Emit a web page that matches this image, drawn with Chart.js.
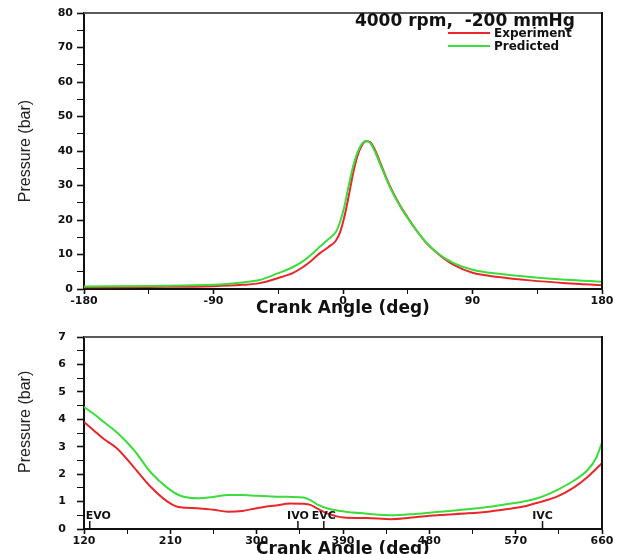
<!DOCTYPE html>
<html>
<head>
<meta charset="utf-8">
<title>Cylinder pressure</title>
<script src="https://cdn.jsdelivr.net/npm/chart.js@4.4.1/dist/chart.umd.min.js"></script>
<style>
html,body{margin:0;padding:0;background:#fff;overflow:hidden;}
#wrap{position:relative;width:624px;height:554px;}
canvas{position:absolute;left:0;}
#topChart{top:0;}
#lowChart{top:312px;}
</style>
</head>
<body>
<div id="wrap">
<canvas id="topChart" width="624" height="330"></canvas>
<canvas id="lowChart" width="624" height="254"></canvas>
</div>
<script>
const runTitle = '4000 rpm,  -200 mmHg';
const seriesNames = ['Experiment', 'Predicted'];

// compression / expansion, -180..180 deg
const topAngles = [-180,-135,-90,-70,-58,-45,-35,-28,-22,-16,-10,-5,-2,1,4,7,10,13,16,19,22,26,30,35,40,45,50,58,67,77,90,108,130,155,180];
const topExperiment = [0.5,0.6,0.8,1.2,1.7,3.2,4.6,6.3,8.2,10.4,12.2,14,16.5,21,27,33.5,38.5,41.5,42.8,42.5,40.5,36.5,32.3,27.8,24,20.7,17.6,13.3,9.9,7.0,4.7,3.5,2.5,1.7,1.1];
const topPredicted = [0.7,0.9,1.2,1.9,2.6,4.6,6.3,8.0,10.0,12.3,14.5,16.5,19.5,24,30,35.5,39.5,42,43,42.3,40,36,32,27.5,23.8,20.5,17.5,13.4,10,7.5,5.6,4.4,3.5,2.7,2.1];

// gas exchange, 120..660 deg
const lowAngles = [120,130,140,155,172,190,207,220,238,255,270,285,300,320,335,349,356,364,375,391,415,440,465,491,520,543,560,578,595,613,630,645,654,660];
const lowExperiment = [3.9,3.6,3.3,2.92,2.25,1.52,1.0,0.79,0.76,0.7,0.63,0.66,0.76,0.86,0.93,0.92,0.88,0.73,0.55,0.42,0.4,0.36,0.43,0.51,0.57,0.64,0.72,0.82,0.98,1.18,1.5,1.9,2.2,2.4];
const lowPredicted = [4.45,4.2,3.92,3.5,2.88,2.05,1.5,1.22,1.12,1.17,1.24,1.24,1.21,1.18,1.17,1.15,1.05,0.88,0.74,0.64,0.56,0.5,0.55,0.63,0.72,0.81,0.9,1.0,1.15,1.42,1.75,2.15,2.6,3.15];

const valveEvents = ['EVO','IVO','EVC','IVC'];
const valveAngles = [126,343,370,598];

const redColor = '#e8262b';
const greenColor = '#3ddc3d';

Chart.defaults.font.family = '"DejaVu Sans", sans-serif';
Chart.defaults.color = '#111';

function makePoints(xs, ys){
    var pts = [];
    for (let i = 0; i < xs.length; i++) {
        pts.push({x: xs[i], y: ys[i]});
    }
    return pts;
}

function makeDatasets(xs, red, green){
    return [{
        label: seriesNames[0],
        data: makePoints(xs, red),
        borderColor: redColor,
        borderWidth: 2,
        pointRadius: 0,
        cubicInterpolationMode: 'monotone',
        order: 2
    }, {
        label: seriesNames[1],
        data: makePoints(xs, green),
        borderColor: greenColor,
        borderWidth: 2,
        pointRadius: 0,
        cubicInterpolationMode: 'monotone',
        order: 1
    }];
}

const framePlugin = {
    id: 'frame',
    afterDraw(chart){
        const {ctx, chartArea} = chart;
        ctx.save();
        ctx.lineWidth = 2;
        ctx.strokeStyle = '#5a5a5a';
        ctx.beginPath();
        ctx.moveTo(chartArea.left, chartArea.top);
        ctx.lineTo(chartArea.right, chartArea.top);
        ctx.stroke();
        ctx.strokeStyle = '#111';
        ctx.beginPath();
        ctx.moveTo(chartArea.right, chartArea.top - 1);
        ctx.lineTo(chartArea.right, chartArea.bottom);
        ctx.stroke();
        ctx.restore();
    }
};

const legendBox = {
    id: 'legendBox',
    afterDraw(chart){
        const {ctx, chartArea} = chart;
        const r = chartArea.right, t = chartArea.top;
        ctx.save();
        ctx.fillStyle = '#111';
        ctx.font = 'bold 17px "DejaVu Sans"';
        ctx.textAlign = 'right';
        ctx.textBaseline = 'middle';
        ctx.fillText(runTitle, r - 27, t + 9);
        ctx.font = 'bold 12px "DejaVu Sans"';
        ctx.textAlign = 'left';
        chart.data.datasets.forEach((ds, i) => {
            const y = t + 20 + i * 13;
            ctx.strokeStyle = ds.borderColor;
            ctx.lineWidth = 2;
            ctx.beginPath();
            ctx.moveTo(r - 154, y);
            ctx.lineTo(r - 112, y);
            ctx.stroke();
            ctx.fillText(ds.label, r - 108, y + 1);
        });
        ctx.restore();
    }
};

const valveMarks = {
    id: 'valveMarks',
    afterDraw(chart){
        const {ctx, chartArea} = chart;
        const xs = chart.scales.x;
        const b = chartArea.bottom;
        ctx.save();
        ctx.strokeStyle = '#111';
        ctx.fillStyle = '#111';
        ctx.lineWidth = 1.5;
        ctx.font = 'bold 11px "DejaVu Sans"';
        ctx.textBaseline = 'middle';
        valveEvents.forEach((name, i) => {
            const px = xs.getPixelForValue(valveAngles[i]);
            ctx.beginPath();
            ctx.moveTo(px, b - 8);
            ctx.lineTo(px, b);
            ctx.stroke();
            if (px - chartArea.left < 15) {
                ctx.textAlign = 'left';
                ctx.fillText(name, px - 4, b - 13);
            } else {
                ctx.textAlign = 'center';
                ctx.fillText(name, px, b - 13);
            }
        });
        ctx.restore();
    }
};

function axisX(min, max, isLabel, boxHeight, titlePad){
    return {
        type: 'linear',
        min: min,
        max: max,
        afterFit(scale){ scale.height = boxHeight; },
        border: {display: true, color: '#111', width: 2},
        grid: {
            drawOnChartArea: false,
            drawTicks: true,
            tickLength: 5,
            tickColor: '#111',
            tickWidth: (c) => c.index % 2 === 0 ? 1.6 : 1
        },
        ticks: {
            stepSize: 45,
            autoSkip: false,
            maxRotation: 0,
            padding: 1,
            font: {size: 11, weight: 'bold'},
            callback: (v) => isLabel(v) ? v : ''
        },
        title: {
            display: true,
            text: 'Crank Angle (deg)',
            color: '#111',
            font: {size: 17, weight: 'bold'},
            padding: {top: 0, bottom: titlePad}
        }
    };
}

function axisY(max, step, isLabel, labelPad, titleText){
    return {
        min: 0,
        max: max,
        afterFit(scale){ scale.width = 84; },
        border: {display: true, color: '#111', width: 2},
        grid: {
            drawOnChartArea: false,
            drawTicks: true,
            tickLength: 7,
            tickColor: '#111',
            tickWidth: (c) => c.index % 2 === 0 ? 1.6 : 1
        },
        ticks: {
            stepSize: step,
            autoSkip: false,
            padding: labelPad,
            font: {size: 11, weight: 'bold'},
            callback: (v) => isLabel(v) ? v : ''
        },
        title: {
            display: true,
            text: titleText,
            color: '#222',
            font: {family: '"Liberation Sans Narrow", "Liberation Sans", sans-serif', size: 16, weight: 'normal'},
            padding: {top: 16, bottom: 0}
        }
    };
}

function makeChart(id, datasets, xScale, yScale, topPad, plugins){
    return new Chart(document.getElementById(id), {
        type: 'line',
        data: {datasets: datasets},
        options: {
            responsive: false,
            animation: false,
            devicePixelRatio: 1,
            layout: {padding: {left: 0, top: topPad, right: 22, bottom: 0}},
            plugins: {legend: {display: false}, tooltip: {enabled: false}},
            scales: {x: xScale, y: yScale}
        },
        plugins: plugins
    });
}

makeChart('topChart',
    makeDatasets(topAngles, topExperiment, topPredicted),
    axisX(-180, 180, (v) => v % 90 === 0, 41, 11),
    axisY(80, 5, (v) => v % 10 === 0, 4, 'Pressure (bar)'),
    13, [framePlugin, legendBox]);

makeChart('lowChart',
    makeDatasets(lowAngles, lowExperiment, lowPredicted),
    axisX(120, 660, (v) => (v - 120) % 90 === 0, 37, 6),
    axisY(7, 0.5, (v) => Number.isInteger(v), 11, '     Pressure (bar)'),
    25, [framePlugin, valveMarks]);
</script>
</body>
</html>
